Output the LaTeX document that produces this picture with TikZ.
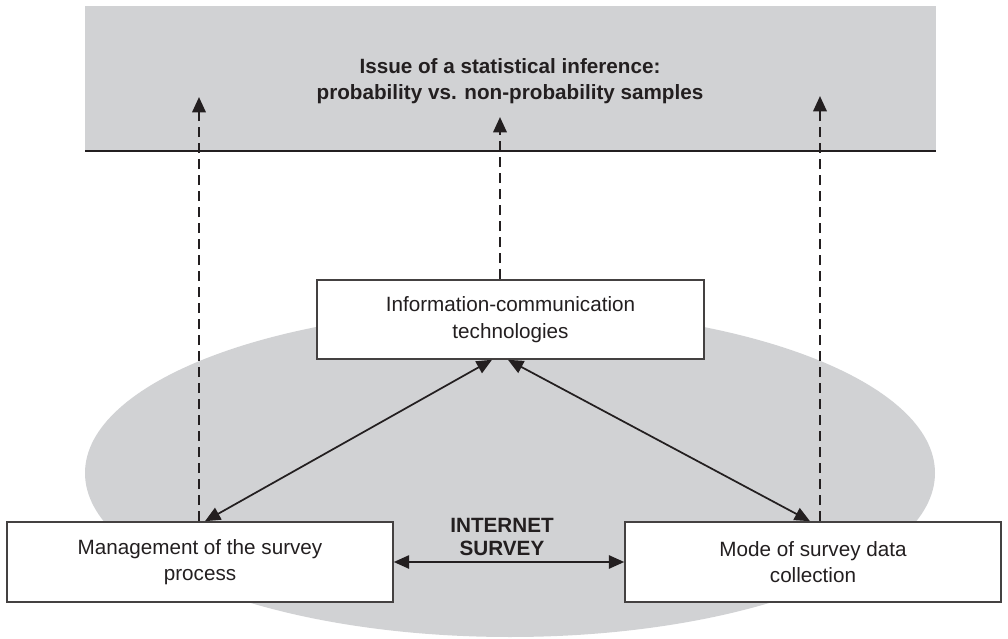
\documentclass[tikz,border=0pt]{standalone}
\usepackage{fontspec}
\setmainfont{Liberation Sans}
\usetikzlibrary{arrows.meta}
\definecolor{bg}{HTML}{D1D2D4}
\definecolor{ink}{HTML}{231F20}
\begin{document}
\begin{tikzpicture}[x=0.75pt,y=-0.75pt,
  box/.style={draw=ink!85, line width=1.2pt, fill=white, align=center, text=ink,
    font=\fontsize{15.5}{20}\selectfont, inner sep=0pt},
  tip/.tip={Triangle[width=10pt,length=11.5pt]},
  solidarrow/.style={draw=ink, line width=1.3pt, tip-tip},
  dasharrow/.style={draw=ink, line width=1.8pt, dash pattern=on 7.5pt off 4.5pt, -tip},
  label/.style={align=center, text=ink, font=\bfseries\fontsize{15.5}{19}\selectfont}
]
\useasboundingbox (0,0) rectangle (1008,639);
% top band
\fill[bg] (85,6) rectangle (936,150);
\draw[ink, line width=2.2pt] (85,151) -- (936,151);
\node[label] (title) at (510,81) {Issue of a statistical inference:\\probability vs. non-probability samples};
% ellipse
\fill[bg] (510,473) ellipse [x radius=318.75pt, y radius=123pt];
% boxes
\node[box, minimum width=290.25pt, minimum height=59.25pt] (ict) at (510.5,319.5) {Information-communication\\technologies};
\node[box, minimum width=289.5pt, minimum height=60pt] (lbox) at (200,562) {Management of the survey\\process};
\node[box, minimum width=282pt, minimum height=60pt] (rbox) at (813,562) {Mode of survey data\\collection};
\node[label, font=\bfseries\fontsize{15.5}{17}\selectfont] (inet) at (502,537) {INTERNET\\SURVEY};
% connectors
\draw[solidarrow] (lbox.east) -- (rbox.west);
\draw[solidarrow] ([xshift=3.75pt]lbox.north) -- ([xshift=-13.9pt]ict.south);
\draw[solidarrow] ([xshift=-2.25pt]rbox.north) -- ([xshift=-1.9pt]ict.south);
\coordinate (tl) at (199,97);
\coordinate (tm) at (500,117);
\coordinate (tr) at (820,96);
\draw[dasharrow] (tl |- lbox.north) -- (tl);
\draw[dasharrow] (tm |- ict.north) -- (tm);
\draw[dasharrow] (tr |- rbox.north) -- (tr);
\end{tikzpicture}
\end{document}
